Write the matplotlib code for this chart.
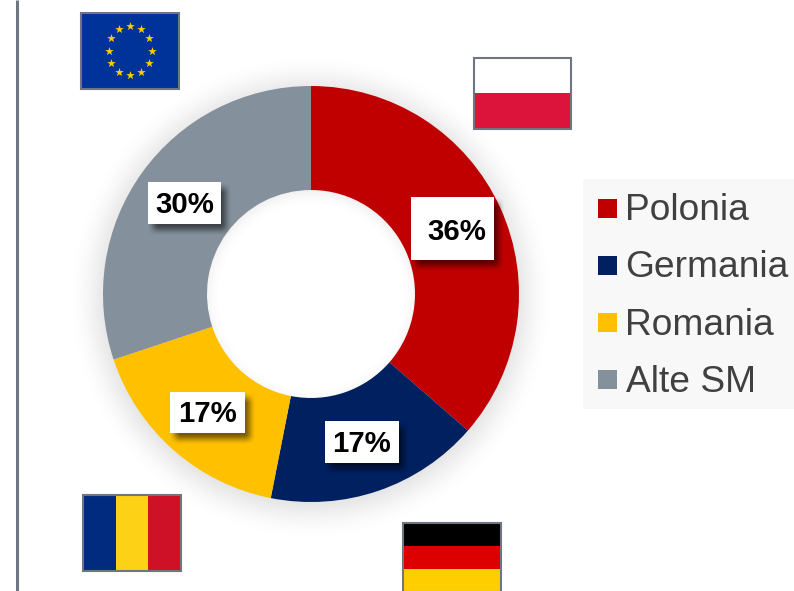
import numpy as np
import matplotlib
matplotlib.use('Agg')
import matplotlib.pyplot as plt
from matplotlib.patches import Rectangle

plt.rcParams['font.family'] = ['Liberation Sans', 'DejaVu Sans']

countries = ['Polonia', 'Germania', 'Romania', 'Alte SM']
shares = [36.4, 16.7, 16.8, 30.1]
share_labels = ['36%', '17%', '17%', '30%']
colors = ['#C00000', '#002060', '#FFC000', '#84909C']

W, H = 794, 591
CX, CY, R = 311, 294, 208
BORDER = '#6F7680'


def pixel_axes(fig, zorder):
    ax = fig.add_axes([0, 0, 1, 1], zorder=zorder)
    ax.set_xlim(0, W)
    ax.set_ylim(H, 0)
    ax.axis('off')
    ax.patch.set_alpha(0)
    return ax


def smooth(t):
    t = np.clip(t, 0, 1)
    return t * t * (3 - 2 * t)


def ring_shadow(ax):
    # soft glow round the ring, fades out about 40px from the edge
    yy, xx = np.mgrid[0:H, 0:W]
    r = np.hypot(xx + 0.5 - CX, yy + 0.5 - (CY + 3))
    outer = smooth((R + 38 - r) / 56) ** 1.3
    inner = smooth((r - (R / 2 - 16)) / 36) ** 1.3
    rgba = np.zeros((H, W, 4))
    rgba[..., :3] = 0.4
    rgba[..., 3] = 0.22 * outer * inner
    ax.imshow(rgba, extent=(0, W, H, 0), aspect='auto', interpolation='bilinear')


def box_shadow(ax, x0, y0, x1, y1):
    dx, dy, blur = 5, 6, 6
    pad = 2 * blur
    xs = np.arange(x0 - pad, x1 + dx + pad) + 0.5
    ys = np.arange(y0 - pad, y1 + dy + pad) + 0.5
    ax_mask = smooth((xs - (x0 + dx - blur)) / (2 * blur)) * smooth(((x1 + dx + blur) - xs) / (2 * blur))
    ay_mask = smooth((ys - (y0 + dy - blur)) / (2 * blur)) * smooth(((y1 + dy + blur) - ys) / (2 * blur))
    rgba = np.zeros((len(ys), len(xs), 4))
    rgba[..., 3] = 0.55 * np.outer(ay_mask, ax_mask)
    ax.imshow(rgba, extent=(xs[0] - 0.5, xs[-1] + 0.5, ys[-1] + 0.5, ys[0] - 0.5),
              aspect='auto', interpolation='bilinear', zorder=2)


def flag_frame(ax, x0, y0, x1, y1):
    ax.add_patch(Rectangle((x0, y0), x1 - x0, y1 - y0, fill=False, ec=BORDER, lw=1.5, zorder=6))


def h_stripes(ax, x0, y0, x1, y1, stripe_colors):
    h = (y1 - y0) / len(stripe_colors)
    for i, c in enumerate(stripe_colors):
        ax.add_patch(Rectangle((x0, y0 + i * h), x1 - x0, h, fc=c, ec='none', zorder=5))
    flag_frame(ax, x0, y0, x1, y1)


def v_stripes(ax, x0, y0, x1, y1, stripe_colors):
    w = (x1 - x0) / len(stripe_colors)
    for i, c in enumerate(stripe_colors):
        ax.add_patch(Rectangle((x0 + i * w, y0), w, y1 - y0, fc=c, ec='none', zorder=5))
    flag_frame(ax, x0, y0, x1, y1)


fig = plt.figure(figsize=(W / 100, H / 100), dpi=100, facecolor='white')

back = pixel_axes(fig, 0)
ring_shadow(back)
back.set_xlim(0, W)
back.set_ylim(H, 0)

# donut
pie_ax = fig.add_axes([(CX - R) / W, 1 - (CY + R) / H, 2 * R / W, 2 * R / H], zorder=1)
pie_ax.patch.set_alpha(0)
pie_ax.pie(shares, colors=colors, startangle=90, counterclock=False, radius=1,
           wedgeprops={'width': 0.5, 'linewidth': 0})
pie_ax.set_xlim(-1, 1)
pie_ax.set_ylim(-1, 1)

top = pixel_axes(fig, 2)

# left rule
top.plot([17, 17], [0, H], color=BORDER, lw=2.2, solid_capstyle='butt')

# value boxes
boxes = [(411, 197, 494, 260), (325, 421, 399, 463), (170, 392, 245, 433), (148, 182, 221, 224)]
text_x = [457, 362, 208, 185]
text_y = [231.5, 444, 413.5, 205]
for (x0, y0, x1, y1), tx, ty, lab in zip(boxes, text_x, text_y, share_labels):
    box_shadow(top, x0, y0, x1, y1)
    top.add_patch(Rectangle((x0, y0), x1 - x0, y1 - y0, fc='white', ec='none', zorder=3))
    top.text(tx, ty, lab, ha='center', va='center', fontsize=21.2,
             fontweight='bold', color='black', zorder=4)

# legend
top.add_patch(Rectangle((583, 179), 211, 230, fc='#F8F8F8', ec='none', zorder=1))
for i, (name, c) in enumerate(zip(countries, colors)):
    top.add_patch(Rectangle((598, 199 + i * 57), 19, 19, fc=c, ec='none', zorder=2))
    top.text(625.5, 220 + i * 57.3, name, ha='left', va='baseline', fontsize=26.7, color='#404040', zorder=2)

# flags
h_stripes(top, 473.5, 57.5, 571, 128.5, ['#FFFFFF', '#DC143C'])
v_stripes(top, 83, 495, 180.5, 570.5, ['#002B7F', '#FCD116', '#CE1126'])
# german flag runs off the bottom of the picture
h_stripes(top, 403, 523, 501, 591.5, ['#000000', '#DD0000', '#FFCE00'])

top.add_patch(Rectangle((81, 13), 98, 76, fc='#003399', ec='none', zorder=5))
flag_frame(top, 81, 13, 178.5, 88.5)
star_angles = np.deg2rad(np.arange(0, 360, 30))
top.scatter(130 + 21.5 * np.cos(star_angles), 50.5 + 24.8 * np.sin(star_angles), marker='*', s=42,
            color='#FFCC00', linewidths=0, zorder=6)

top.set_xlim(0, W)
top.set_ylim(H, 0)

fig.savefig('out.png', dpi=100)
